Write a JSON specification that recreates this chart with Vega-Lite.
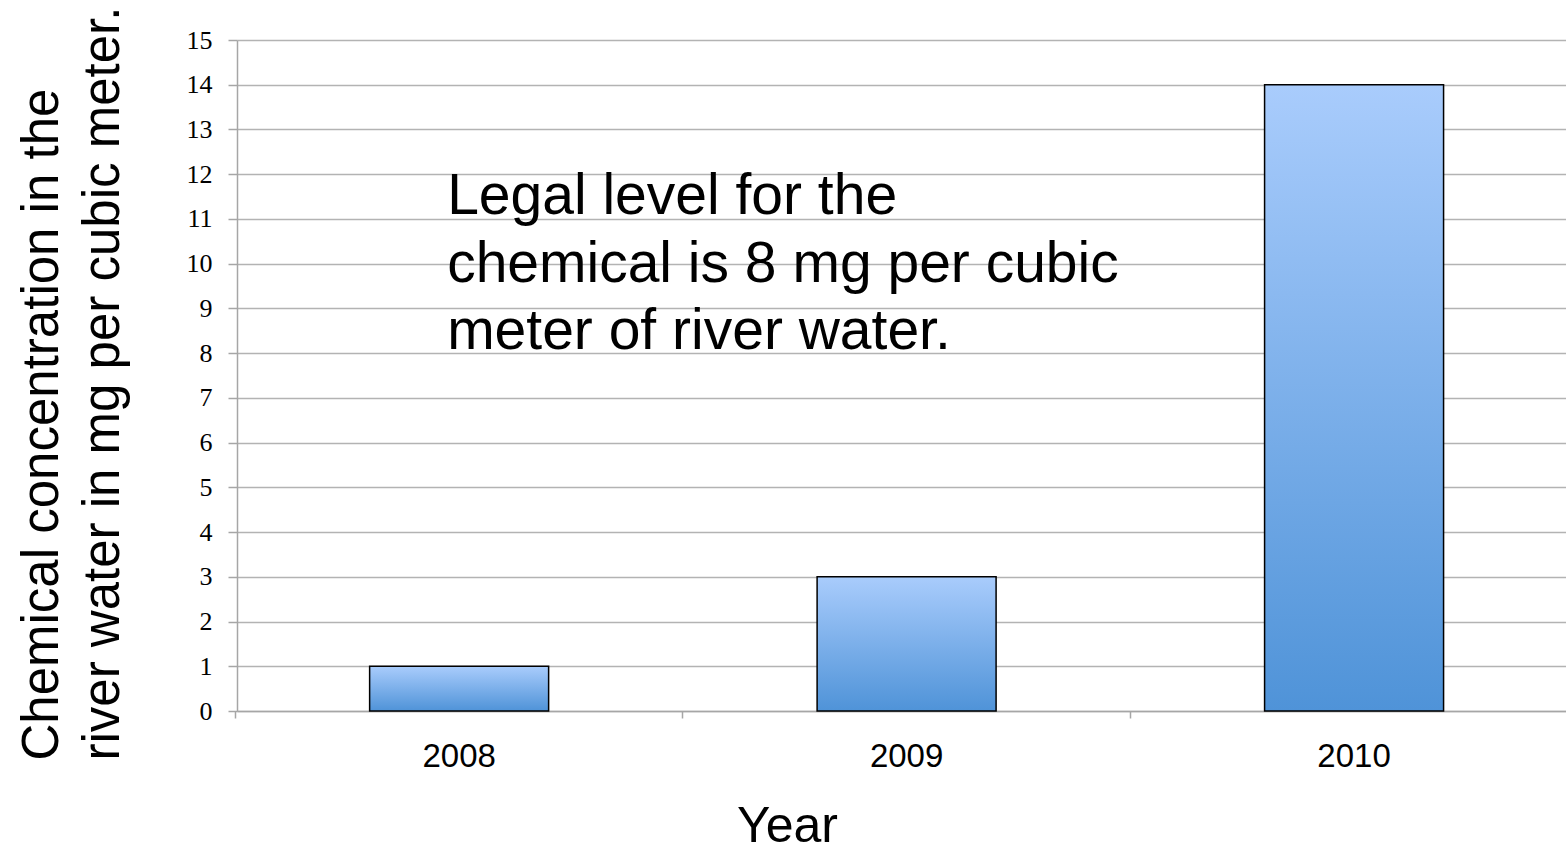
{
  "$schema": "https://vega.github.io/schema/vega-lite/v6.json",
  "width": 1329,
  "height": 671,
  "autosize": {"type": "none"},
  "padding": {"left": 237, "top": 40, "right": 0, "bottom": 137},
  "background": "white",
  "config": {"view": {"stroke": null}},
  "data": {"values": [
    {"year": "2008", "value": 1},
    {"year": "2009", "value": 3},
    {"year": "2010", "value": 14}
  ]},
  "layer": [
    {
      "mark": {
        "type": "bar",
        "stroke": "black",
        "strokeWidth": 1.5,
        "fill": {"gradient": "linear", "x1": 0, "y1": 0, "x2": 0, "y2": 1,
          "stops": [{"offset": 0, "color": "#a9ccfc"}, {"offset": 1, "color": "#4f93d8"}]}
      },
      "encoding": {
        "x": {
          "field": "year", "type": "nominal", "sort": null,
          "scale": {"paddingInner": 0.6, "paddingOuter": 0.285, "align": 0.52},
          "axis": {
            "title": "Year", "titleFont": "Liberation Sans", "titleFontSize": 50, "titleFontWeight": "normal", "titleColor": "black",
            "titleX": 550, "titleY": 130, "titleBaseline": "alphabetic", "titleAlign": "center",
            "labelFont": "Liberation Sans", "labelFontSize": 33, "labelColor": "black", "labelAngle": 0, "labelPadding": 22,
            "bandPosition": -0.75, "tickSize": 7, "tickColor": "#a6a6a6", "tickWidth": 1.5,
            "domainColor": "#a6a6a6", "domainWidth": 1.5, "grid": false
          }
        },
        "y": {
          "field": "value", "type": "quantitative",
          "scale": {"domain": [0, 15], "nice": false},
          "axis": {
            "values": [0,1,2,3,4,5,6,7,8,9,10,11,12,13,14,15],
            "title": ["Chemical concentration in the", "river water in mg per cubic meter."],
            "titleFont": "Liberation Sans", "titleFontSize": 51, "titleFontWeight": "normal", "titleColor": "black",
            "titleAngle": -90, "titleAlign": "left", "titleBaseline": "alphabetic", "titleLineHeight": 61,
            "titleX": -180, "titleY": 720,
            "labelFont": "Liberation Serif", "labelFontSize": 26, "labelColor": "black", "labelPadding": 16,
            "tickSize": 9, "tickColor": "#a6a6a6", "tickWidth": 1.5,
            "domainColor": "#a6a6a6", "domainWidth": 1.5,
            "grid": true, "gridColor": "#b3b3b3", "gridWidth": 1.5
          }
        }
      }
    },
    {
      "data": {"values": [{"year": "2008", "level": 11.1}]},
      "mark": {
        "type": "text",
        "text": ["Legal level for the", "chemical is 8 mg per cubic", "meter of river water."],
        "font": "Liberation Sans", "fontSize": 57, "align": "left", "baseline": "alphabetic",
        "lineHeight": 67.5, "color": "black", "dx": -12
      },
      "encoding": {
        "x": {"field": "year", "type": "nominal"},
        "y": {"field": "level", "type": "quantitative"}
      }
    }
  ]
}
